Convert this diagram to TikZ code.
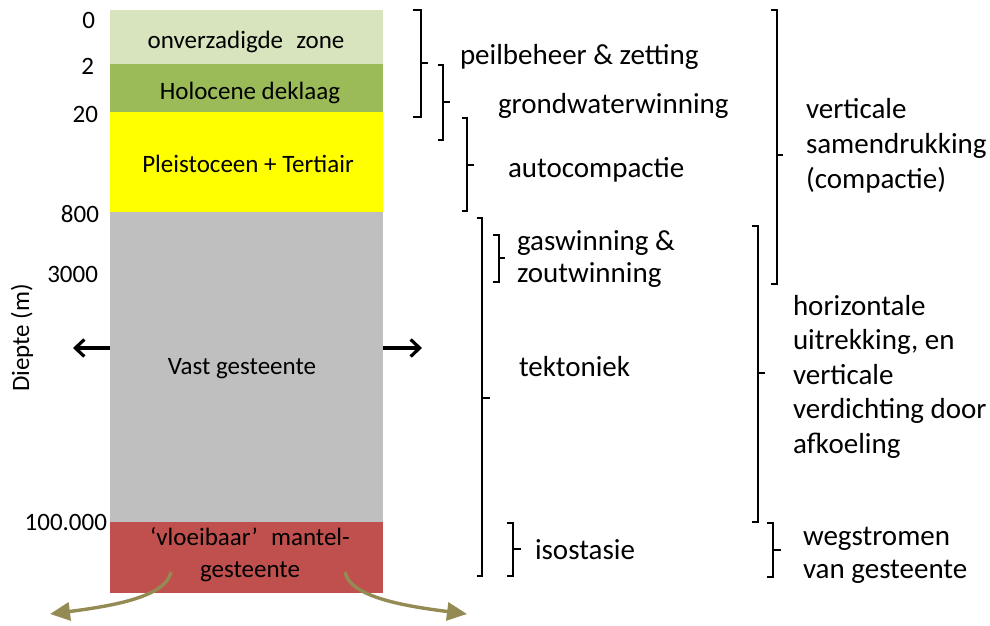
\documentclass[tikz,border=0pt]{standalone}
\usepackage{fontspec}
\setmainfont{Carlito}
\usetikzlibrary{arrows.meta}

\begin{document}
\begin{tikzpicture}[x=1pt, y=-1pt,
        every node/.style={inner sep=0pt, outer sep=0pt},
        layer/.style={minimum width=273pt, draw=none},
        laytxt/.style={font=\fontsize{25}{32}\selectfont, align=center, anchor=base},
        depth/.style={font=\fontsize{25}{30}\selectfont, anchor=east},
        proc/.style={font=\fontsize{29}{34.5}\selectfont, align=left, anchor=base west},
        brk/.style={line width=2.4pt},
        push/.style={line width=3.2pt, -{Straight Barb[length=9pt,width=17pt]}},
        flow/.style={draw=flowolive, line width=3.4pt, -{Triangle[length=20pt,width=18pt]}}]
        \definecolor{zonegreen}{RGB}{215,228,189}
        \definecolor{holegreen}{RGB}{155,187,89}
        \definecolor{pleisyellow}{RGB}{255,255,0}
        \definecolor{rockgray}{RGB}{191,191,191}
        \definecolor{mantlered}{RGB}{192,80,77}
        \definecolor{flowolive}{RGB}{148,138,84}

        \useasboundingbox (0,0) rectangle (990,625);

        % Soil column
        \node[layer, fill=zonegreen, minimum height=54pt] (zone) at (246.5,37) {};
        \node[layer, fill=holegreen, minimum height=48pt] (holo) at (246.5,88) {};
        \node[layer, fill=pleisyellow, minimum height=100pt] (pleis) at (246.5,162) {};
        \node[layer, fill=rockgray, minimum height=310pt] (vast) at (246.5,367) {};
        \node[layer, fill=mantlered, minimum height=71pt] (mantel) at (246.5,557.5) {};

        % Layer names (base = last line)
        \node[laytxt] (tzone) at (246,48) {onverzadigde\hspace{0.3em} zone};
        \node[laytxt] (tholo) at (250,99) {Holocene deklaag};
        \node[laytxt] (tpleis) at (248,172) {Pleistoceen + Tertiair};
        \node[laytxt] (tvast) at (242,374) {Vast gesteente};
        \node[laytxt] (tmantel) at (250,577) {‘vloeibaar’\hspace{0.3em} mantel-\\gesteente};

        % Depth scale
        \node[depth] (d0) at (95,20) {0};
        \node[depth] (d2) at (94,66) {2};
        \node[depth] (d20) at (98,114) {20};
        \node[depth] (d800) at (99,214) {800};
        \node[depth] (d3000) at (98,274) {3000};
        \node[depth] (d100k) at (107,522) {100.000};
        \node[rotate=90, font=\fontsize{25}{30}\selectfont] (yaxis) at (22,338) {Diepte (m)};

        % Horizontal stretching
        \coordinate (lefttip) at (73,348);
        \coordinate (righttip) at (422,348);
        \draw[push] (vast.west |- lefttip) -- (lefttip);
        \draw[push] (vast.east |- righttip) -- (righttip);

        % Mantle flow
        \coordinate (flowL) at (171,572);
        \coordinate (flowLend) at (50,614);
        \coordinate (flowR) at (345,572);
        \coordinate (flowRend) at (467,614);
        \draw[flow] (flowL) .. controls (166,597) and (112,606) .. (flowLend);
        \draw[flow] (flowR) .. controls (350,597) and (404,606) .. (flowRend);

        % Brackets, inner column
        \draw[brk] (413,10) -- (421,10) -- (421,117) -- (413,117) (421,63) -- (428,63);
        \draw[brk] (438,65) -- (443,65) -- (443,140) -- (438,140) (443,102) -- (450,102);
        \draw[brk] (462,118) -- (467,118) -- (467,211) -- (462,211) (467,165) -- (474,165);
        \draw[brk] (477,218) -- (482,218) -- (482,576) -- (477,576) (482,398) -- (490,398);
        \draw[brk] (493,235) -- (499,235) -- (499,282) -- (493,282) (499,258) -- (505,258);
        \draw[brk] (507,523) -- (513,523) -- (513,576) -- (507,576) (513,549) -- (521,549);

        % Brackets, outer column
        \draw[brk] (771,10) -- (777,10) -- (777,284) -- (771,284) (777,155) -- (783,155);
        \draw[brk] (752,226) -- (758,226) -- (758,522) -- (752,522) (758,373) -- (765,373);
        \draw[brk] (767,523) -- (773,523) -- (773,577) -- (767,577) (773,550) -- (781,550);

        % Processes (base = last line)
        \node[proc] (peil) at (460,64) {peilbeheer \& zetting};
        \node[proc] (grond) at (498,113) {grondwaterwinning};
        \node[proc] (auto) at (508,177) {autocompactie};
        \node[proc, font=\fontsize{29}{32}\selectfont] (gas) at (517,282) {gaswinning \&\\zoutwinning};
        \node[proc] (tekt) at (519,376) {tektoniek};
        \node[proc] (iso) at (535,559) {isostasie};
        \node[proc, font=\fontsize{29}{35}\selectfont] (vert) at (806,188) {verticale\\samendrukking\\(compactie)};
        \node[proc] (hori) at (793,453) {horizontale\\uitrekking, en\\verticale\\verdichting door\\afkoeling};
        \node[proc, font=\fontsize{29}{33}\selectfont] (weg) at (803,578) {wegstromen\\van gesteente};
\end{tikzpicture}
\end{document}
